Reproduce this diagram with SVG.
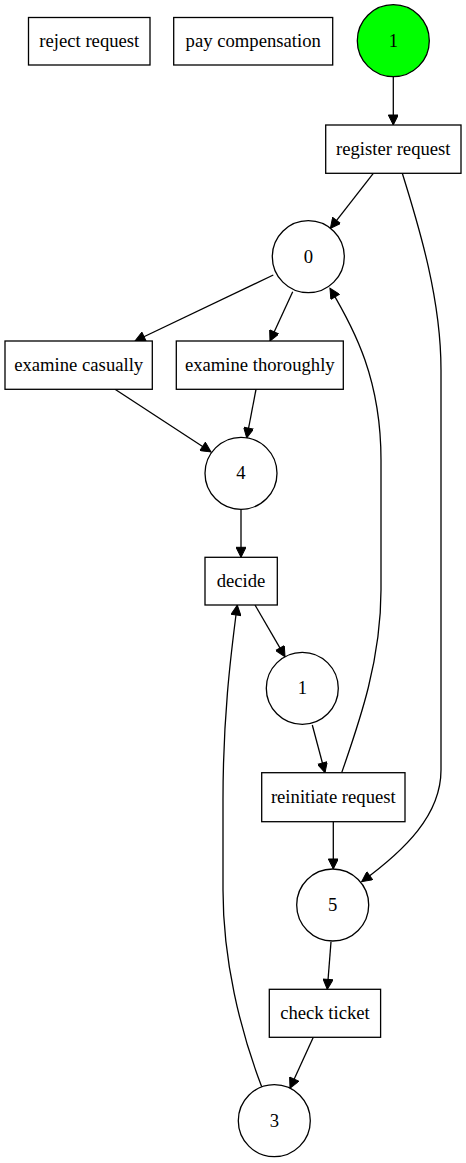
<svg xmlns="http://www.w3.org/2000/svg" width="466" height="1163" viewBox="0 0 466 1163">
<style>
.n rect, .n circle { fill: #ffffff; stroke: #000000; stroke-width: 1.3; }
.n circle.start { fill: #00ff00; }
.n text { font-family: "Liberation Serif", "Times New Roman", serif; font-size: 18.67px; text-anchor: middle; fill: #000000; }
#edges path { fill: none; stroke: #000000; stroke-width: 1.3; marker-end: url(#arr); }
</style>
<defs>
<marker id="arr" viewBox="0 0 10 10" refX="10" refY="5" markerUnits="userSpaceOnUse" markerWidth="13.3" markerHeight="10" orient="auto">
<path d="M0,0 L10,5 L0,10 z" fill="#000000" stroke="#000000" stroke-width="1"/>
</marker>
</defs>
<rect x="0" y="0" width="466" height="1163" fill="#ffffff"/>
<g id="edges">
<path d="M393.3,76.7 L393.3,125"/>
<path d="M373.3,173.3 L330.4,228.3"/>
<path d="M402.3,173.3 C420,230 441,300 441,370 L441,770 C441,815 405,850 361.7,881.7"/>
<path d="M273.3,275 L135,341"/>
<path d="M292.7,291.7 L270,341"/>
<path d="M341.7,772.7 C360,720 381,660 381,590 L381,460 C381,380 355,330 330,288.3"/>
<path d="M115,389.3 L211,452"/>
<path d="M256,389.3 L246.7,438"/>
<path d="M241,509.3 L241,557.3"/>
<path d="M255,605 L285,656.7"/>
<path d="M312.3,725 L325,772.7"/>
<path d="M333.3,821.7 L333.3,869"/>
<path d="M331,941.7 L327.3,989.3"/>
<path d="M313.3,1037.3 L290,1088.3"/>
<path d="M261.7,1086.7 C240,1030 223,960 223,890 L223,800 C223,720 230,660 237.3,605"/>
</g>
<g id="t_reject" class="n"><rect x="28.5" y="17.5" width="121.5" height="47.5"/><text x="89.3" y="46.5">reject request</text></g>
<g id="t_pay" class="n"><rect x="173.7" y="17.5" width="159" height="47.5"/><text x="253.2" y="46.5">pay compensation</text></g>
<g id="p_start" class="n"><circle class="start" cx="393.3" cy="40.7" r="36"/><text x="393.3" y="46.5">1</text></g>
<g id="t_register" class="n"><rect x="325.7" y="125" width="135.3" height="48.3"/><text x="393.3" y="154.5">register request</text></g>
<g id="p_0" class="n"><circle cx="308.3" cy="256.7" r="36"/><text x="308.3" y="262.5">0</text></g>
<g id="t_casual" class="n"><rect x="5" y="341" width="147.3" height="48.3"/><text x="78.7" y="370.5">examine casually</text></g>
<g id="t_thorough" class="n"><rect x="176.3" y="341" width="167" height="48.3"/><text x="259.8" y="370.5">examine thoroughly</text></g>
<g id="p_4" class="n"><circle cx="241" cy="473.3" r="36"/><text x="241" y="479">4</text></g>
<g id="t_decide" class="n"><rect x="205" y="557.3" width="72.3" height="47.7"/><text x="241" y="586.5">decide</text></g>
<g id="p_1" class="n"><circle cx="302.3" cy="688.3" r="36"/><text x="302.3" y="694">1</text></g>
<g id="t_reinit" class="n"><rect x="261.7" y="772.7" width="143.3" height="49"/><text x="333.3" y="802.5">reinitiate request</text></g>
<g id="p_5" class="n"><circle cx="332.7" cy="905" r="36"/><text x="332.7" y="910.8">5</text></g>
<g id="t_check" class="n"><rect x="269.3" y="989.3" width="111.3" height="48"/><text x="325" y="1018.5">check ticket</text></g>
<g id="p_3" class="n"><circle cx="274.3" cy="1120.7" r="36"/><text x="274.3" y="1126.5">3</text></g>
</svg>
